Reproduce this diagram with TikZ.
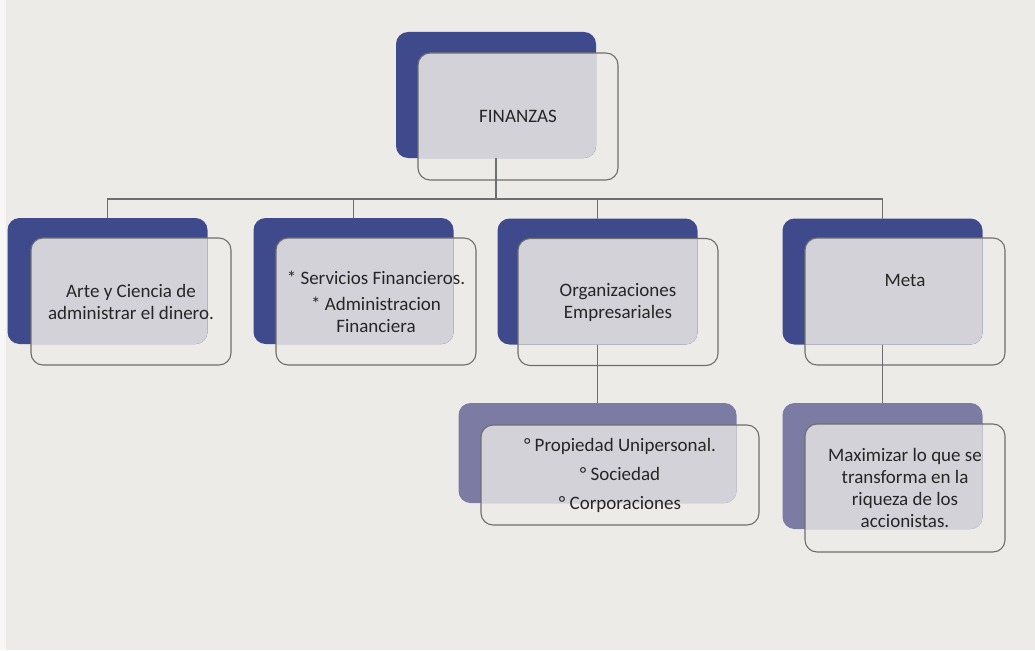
\documentclass[tikz,border=0pt]{standalone}
\usepackage{fontspec}
\setmainfont{Carlito}
\definecolor{bgColor}{HTML}{EDEBE8}
\definecolor{navyColor}{HTML}{3E4A8B}
\definecolor{slateColor}{HTML}{7B7BA3}
\definecolor{veilColor}{HTML}{D3D2D9}
\definecolor{lineColor}{HTML}{6E6E6E}
\definecolor{inkColor}{HTML}{262626}

\begin{document}
\begin{tikzpicture}[x=1pt,y=-1pt,
	back/.style={fill=#1, rounded corners=12pt, minimum width=200pt,
		minimum height=126pt, outer sep=0, inner sep=0},
	back/.default=navyColor,
	card/.style={draw=lineColor, line width=1.1pt, rounded corners=12pt,
		minimum width=200pt, minimum height=127pt, outer sep=0, align=center,
		text=inkColor, font=\fontsize{19}{22}\selectfont,
		path picture={\fill[veilColor, rounded corners=12pt] (#1.north west) rectangle (#1.south east);}},
	wire/.style={draw=lineColor, line width=1.1pt}]
	\useasboundingbox (0,0) rectangle (1035,650);
	\fill[bgColor] (0,0) rectangle (1035,650);
	\fill[white!60!bgColor] (0,0) rectangle (6,650);
	
	\node[back] (fin) at (496,95) {};
	\node[card=fin] (fin-t) at (518,116.5) {FINANZAS};
	
	\node[back] (arte) at (107.5,281) {};
	\node[card=arte] (arte-t) at (131,301.5) {Arte y Ciencia de\\administrar el dinero.};
	\node[back] (serv) at (353.5,281) {};
	\node[card=serv] (serv-t) at (376,301.5) {* Servicios Financieros.\\[4pt]* Administracion\\Financiera};
	\node[back] (org) at (597.5,281.5) {};
	\node[card=org] (org-t) at (618,302) {Organizaciones\\Empresariales};
	\node[back] (meta) at (882.5,281.5) {};
	\node[card=meta] (meta-t) at (905,301.5) {Meta\\[14pt]\strut};
	
	\node[back=slateColor, minimum width=278pt, minimum height=100pt] (prop) at (597.5,453) {};
	\node[card=prop, minimum width=278pt, minimum height=100pt] (prop-t) at (620,475) {° Propiedad Unipersonal.\\[7pt]° Sociedad\\[7pt]° Corporaciones};
	\node[back=slateColor] (maxi) at (882.5,466) {};
	\node[card=maxi, minimum height=128pt] (maxi-t) at (905,488) {Maximizar lo que se\\transforma en la\\riqueza de los\\accionistas.};
	
	\draw[wire] (fin.south) -- ++(0,41) -| (arte.north);
	\draw[wire] (fin.south) -- ++(0,41) -| (serv.north);
	\draw[wire] (fin.south) -- ++(0,41) -| (org.north);
	\draw[wire] (fin.south) -- ++(0,41) -| (meta.north);
	\draw[wire] (org.south) -- (prop.north);
	\draw[wire] (meta.south) -- (maxi.north);
\end{tikzpicture}
\end{document}
